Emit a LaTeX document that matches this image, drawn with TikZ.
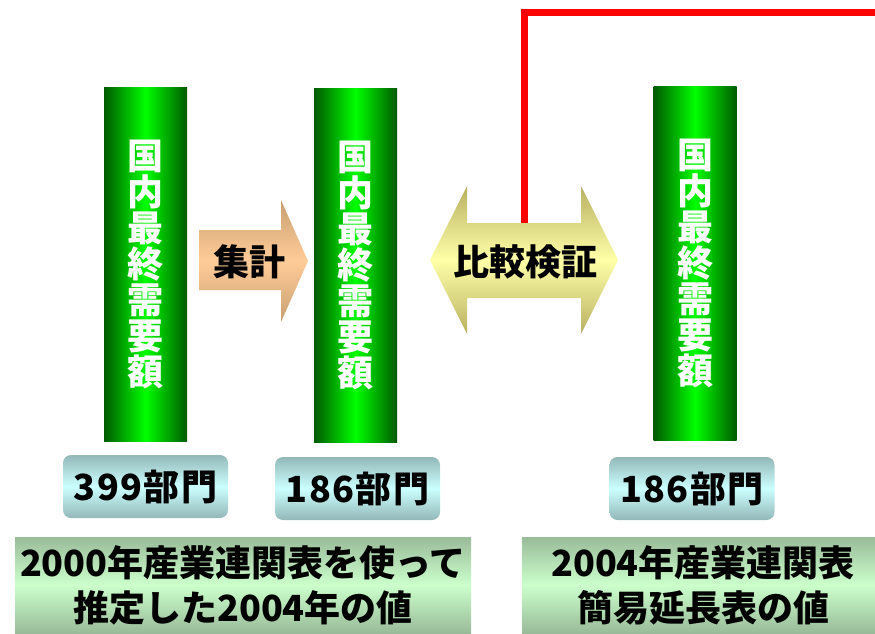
\documentclass[tikz,border=0pt]{standalone}
\usepackage{fontspec}
\setmainfont{Noto Sans CJK JP}

\definecolor{bardark}{HTML}{005A00}
\definecolor{barlight}{HTML}{00FF00}
\definecolor{secedge}{HTML}{93B8B8}
\definecolor{secmid}{HTML}{CCFFFF}
\definecolor{noteedge}{HTML}{99BB99}
\definecolor{notemid}{HTML}{CCFFCC}
\definecolor{sumedge}{HTML}{C8A070}
\definecolor{summid}{HTML}{FFCC99}
\definecolor{cmpedge}{HTML}{B8B060}
\definecolor{cmpmid}{HTML}{FFFFA8}

\begin{document}
\begin{tikzpicture}[
    x=1pt, y=-1pt,
    bar/.style={minimum width=83pt, minimum height=354pt, inner sep=0pt,
        left color=bardark, right color=bardark, middle color=barlight,
        text=white, align=center, font=\fontsize{36}{36}\selectfont\bfseries},
    secbox/.style={rounded corners=8pt, minimum width=165pt, minimum height=63pt, inner sep=0pt,
        top color=secedge, bottom color=secedge, middle color=secmid,
        font=\fontsize{36}{36}\selectfont\bfseries\addfontfeature{LetterSpace=4}},
    notebox/.style={minimum height=96pt, inner sep=0pt, align=center,
        top color=noteedge, bottom color=noteedge, middle color=notemid,
        font=\fontsize{36}{45}\selectfont\bfseries},
    sumarrow/.style={top color=sumedge, bottom color=sumedge, middle color=summid},
    cmparrow/.style={top color=cmpedge, bottom color=cmpedge, middle color=cmpmid},
    arrowtext/.style={font=\fontsize{36}{36}\selectfont\bfseries, inner sep=0pt},
    redline/.style={line width=7pt, red}
]
\useasboundingbox (0,0) rectangle (875,633);

% Red line to the right
\coordinate (cmptop) at (524,223);
\coordinate (redend) at (884,12);
\draw[redline] (cmptop) |- (redend);

% Bars
\node[bar] (bar1) at (145.5,264) {国\\内\\最\\終\\需\\要\\額};
\node[bar] (bar2) at (355.5,265.5) {国\\内\\最\\終\\需\\要\\額};
\node[bar] (bar3) at (695,263.5) {国\\内\\最\\終\\需\\要\\額};

% Arrows
\path[sumarrow] (199,230) -- (281,230) -- (281,200) -- (308,261)
    -- (281,322) -- (281,290) -- (199,290) -- cycle;
\node[arrowtext] (sum) at (249,262) {集計};

\path[cmparrow] (430,260) -- (467,186) -- (467,223) -- (581,223) -- (581,186)
    -- (618,260) -- (581,334) -- (581,298) -- (467,298) -- (467,334) -- cycle;
\node[arrowtext] (cmp) at (525,262) {比較検証};

% Sector counts
\node[secbox] (sec1) at (145.5,486.5) {399部門};
\node[secbox] (sec2) at (357.5,488.5) {186部門};
\node[secbox] (sec3) at (692,488.5) {186部門};

% Notes
\node[notebox, minimum width=456pt] (note1) at (243,585) {2000年産業連関表を使って\\推定した2004年の値};
\node[notebox, minimum width=362pt] (note2) at (703,585) {2004年産業連関表\\簡易延長表の値};

\end{tikzpicture}
\end{document}
